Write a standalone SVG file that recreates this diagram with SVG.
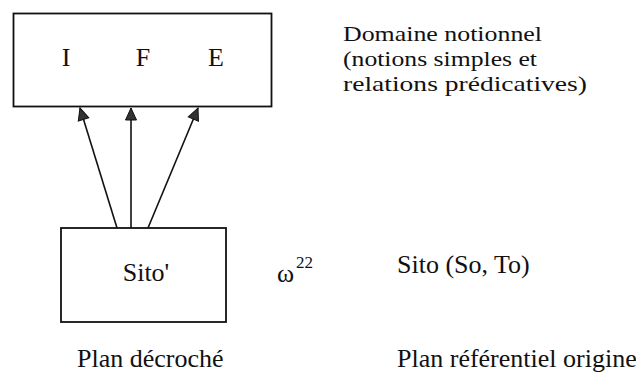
<svg xmlns="http://www.w3.org/2000/svg" width="636" height="376" viewBox="0 0 636 376">
<style>
text{font-family:"Liberation Serif","DejaVu Serif","Times New Roman",serif;font-size:26px;fill:#111}
.box{fill:#fff;stroke:#111;stroke-width:1.8}
.con{stroke:#111;stroke-width:1.6;fill:none}
.sup{font-size:17px}
.dn{font-size:22px}
</style>
<defs>
<marker id="ah" markerUnits="userSpaceOnUse" markerWidth="14" markerHeight="14" refX="13" refY="6.5" orient="auto">
<path d="M1,1 L13,6.5 L1,12 Z" fill="#333" stroke="#111" stroke-width="1"/>
</marker>
</defs>
<rect width="636" height="376" fill="#fff"/>
<g id="connectors">
<line class="con" x1="117" y1="228" x2="80" y2="108" marker-end="url(#ah)"/>
<line class="con" x1="131" y1="228" x2="131" y2="108" marker-end="url(#ah)"/>
<line class="con" x1="148" y1="228" x2="198" y2="108" marker-end="url(#ah)"/>
</g>
<g id="domaine">
<rect class="box" x="13.5" y="13.5" width="258" height="93"/>
<text x="66" y="66" text-anchor="middle" font-family="Liberation Serif, serif">I</text>
<text x="143" y="66" text-anchor="middle" font-family="Liberation Serif, serif">F</text>
<text x="216" y="66" text-anchor="middle" font-family="Liberation Serif, serif">E</text>
</g>
<g id="sito-prime">
<rect class="box" x="61" y="228" width="165" height="94"/>
<text x="146" y="281" text-anchor="middle" font-family="Liberation Serif, serif">Sito'</text>
</g>
<g id="omega">
<text x="277" y="282" font-family="Liberation Serif, serif">ω<tspan class="sup" x="296" y="268">22</tspan></text>
</g>
<g id="labels" font-family="Liberation Serif, serif">
<text class="dn" x="343" y="41" textLength="199" lengthAdjust="spacingAndGlyphs">Domaine notionnel</text>
<text class="dn" x="343" y="66" textLength="194" lengthAdjust="spacingAndGlyphs">(notions simples et</text>
<text class="dn" x="343" y="91" textLength="244" lengthAdjust="spacingAndGlyphs">relations prédicatives)</text>
<text x="397" y="273">Sito (So, To)</text>
<text x="77" y="367">Plan décroché</text>
<text x="397" y="367">Plan référentiel origine</text>
</g>
</svg>
